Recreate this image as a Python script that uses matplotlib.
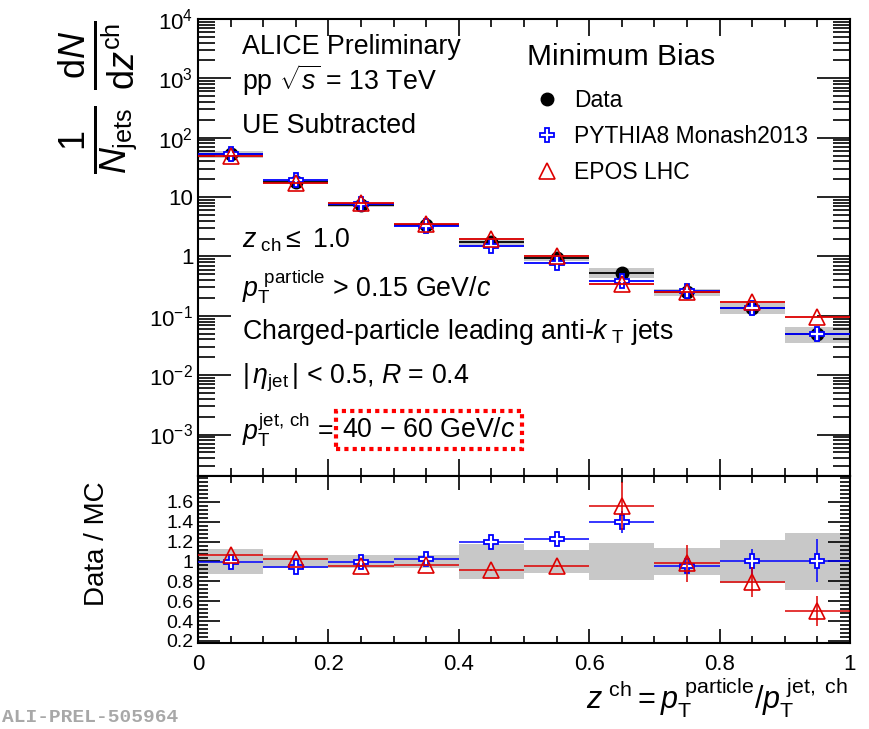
import math
import matplotlib
matplotlib.use('Agg')
import matplotlib.pyplot as plt
import matplotlib.ticker as ticker
from matplotlib.lines import Line2D
from matplotlib.patches import Rectangle

plt.rcParams['font.family'] = ['Liberation Sans', 'DejaVu Sans']
plt.rcParams['mathtext.fontset'] = 'custom'
plt.rcParams['mathtext.rm'] = 'Liberation Sans'
plt.rcParams['mathtext.it'] = 'Liberation Sans:italic'
plt.rcParams['mathtext.bf'] = 'Liberation Sans:bold'

# bins in z^ch
z_centers = [0.05, 0.15, 0.25, 0.35, 0.45, 0.55, 0.65, 0.75, 0.85, 0.95]
z_halfwidth = [0.05] * 10

# spectra 1/Njets dN/dz
data_vals = [53, 18, 7.4, 3.4, 1.76, 0.95, 0.53, 0.25, 0.136, 0.050]
data_sys_rel = [0.13, 0.065, 0.066, 0.07, 0.18, 0.12, 0.19, 0.14, 0.22, 0.29]
pythia_vals = [53.5, 19.1, 7.5, 3.3, 1.47, 0.77, 0.38, 0.26, 0.136, 0.050]
epos_vals = [49.5, 17.5, 7.8, 3.5, 1.93, 1.0, 0.34, 0.255, 0.172, 0.094]

# Data / MC ratios
ratio_pythia = [0.99, 0.94, 0.99, 1.03, 1.20, 1.23, 1.40, 0.95, 1.00, 1.01]
ratio_pythia_err = [0.01, 0.01, 0.01, 0.01, 0.01, 0.01, 0.11, 0.05, 0.13, 0.22]
ratio_epos = [1.07, 1.03, 0.95, 0.96, 0.91, 0.95, 1.56, 0.98, 0.79, 0.50]
ratio_epos_err = [0.01, 0.01, 0.01, 0.01, 0.01, 0.01, 0.24, 0.19, 0.15, 0.15]

gray = '#c8c8c8'
blue = '#0000ff'
red = '#dd0000'

fig = plt.figure(figsize=(8.69, 7.29), dpi=100)
ax = fig.add_axes([0.228, 0.347, 0.750, 0.627])
axr = fig.add_axes([0.228, 0.118, 0.750, 0.229], sharex=ax)

# --- top panel
for zc, hw, v, s in zip(z_centers, z_halfwidth, data_vals, data_sys_rel):
    ax.add_patch(Rectangle((zc - hw, v * (1 - s)), 2 * hw, 2 * v * s,
                           facecolor=gray, edgecolor='none', zorder=1))
ax.errorbar(z_centers, data_vals, xerr=z_halfwidth, fmt='o', color='black',
            ms=9, elinewidth=1.3, capsize=0, zorder=3)
ax.errorbar(z_centers, pythia_vals, xerr=z_halfwidth, fmt='P', color=blue,
            mfc='white', mec=blue, ms=10, mew=1.3, elinewidth=1.3, capsize=0, zorder=4)
ax.errorbar(z_centers, epos_vals, xerr=z_halfwidth, fmt='^', color=red,
            mfc='none', mec=red, ms=11, mew=1.2, elinewidth=1.3, capsize=0, zorder=5)

ax.set_yscale('log')
ax.set_ylim(2e-4, 1e4)
ax.set_xlim(0, 1)
ax.yaxis.set_major_locator(ticker.LogLocator(base=10, numticks=20))
ax.yaxis.set_minor_locator(ticker.LogLocator(base=10, subs=range(2, 10), numticks=20))


def log_fmt(v, pos):
    e = int(round(math.log10(v)))
    if e == 0:
        return '1'
    if e == 1:
        return '10'
    return r'$10^{%d}$' % e


ax.yaxis.set_major_formatter(ticker.FuncFormatter(log_fmt))
plt.setp(ax.get_xticklabels(), visible=False)

for a in (ax, axr):
    a.tick_params(which='both', direction='in', top=True, right=True, labelsize=16, width=1.2)
    a.xaxis.set_major_locator(ticker.MultipleLocator(0.2))
    a.xaxis.set_minor_locator(ticker.MultipleLocator(0.05))
    for sp in a.spines.values():
        sp.set_linewidth(1.5)
ax.tick_params(axis='y', which='major', length=24)
ax.tick_params(axis='y', which='minor', length=12)
ax.tick_params(axis='x', which='major', length=12)
ax.tick_params(axis='x', which='minor', length=6)

# --- ratio panel
for zc, hw, s in zip(z_centers, z_halfwidth, data_sys_rel):
    axr.add_patch(Rectangle((zc - hw, 1 - s), 2 * hw, 2 * s,
                            facecolor=gray, edgecolor='none', zorder=1))
axr.errorbar(z_centers, ratio_pythia, xerr=z_halfwidth, yerr=ratio_pythia_err, fmt='P',
             color=blue, mfc='white', mec=blue, ms=10, mew=1.3, elinewidth=1.1, capsize=0, zorder=4)
axr.errorbar(z_centers, ratio_epos, xerr=z_halfwidth, yerr=ratio_epos_err, fmt='^',
             color=red, mfc='none', mec=red, ms=11, mew=1.2, elinewidth=1.1, capsize=0, zorder=5)
axr.set_ylim(0.18, 1.86)
axr.set_xlim(0, 1)
axr.yaxis.set_major_locator(ticker.FixedLocator([0.2, 0.4, 0.6, 0.8, 1.0, 1.2, 1.4, 1.6]))
axr.yaxis.set_minor_locator(ticker.MultipleLocator(0.04))
axr.yaxis.set_major_formatter(ticker.FuncFormatter(lambda v, p: '%g' % round(v, 2)))
axr.xaxis.set_major_formatter(ticker.FuncFormatter(lambda v, p: '%g' % round(v, 2)))
axr.tick_params(axis='y', which='major', length=16, labelsize=14)
axr.tick_params(axis='y', which='minor', length=7)
axr.tick_params(axis='x', which='major', length=10)
axr.tick_params(axis='x', which='minor', length=5)
axr.tick_params(axis='x', pad=8)

# --- labels
fig.text(0.113, 0.866, r'$\frac{1}{N_{\rm jets}}\;\frac{{\rm d}N}{{\rm d}z^{\rm ch}}$',
         rotation=90, ha='center', va='center', fontsize=37)
fig.text(0.112, 0.254, 'Data / MC', rotation=90, ha='center', va='center', fontsize=20)
fig.text(0.976, 0.042, r'$z^{\rm\ ch} = p_{\rm T}^{\rm\ particle}/p_{\rm T}^{\rm\ jet,\ ch}$',
         ha='right', va='center', fontsize=22)
fig.text(0.002, 0.004, 'ALI-PREL-505964', fontsize=14, color='#a8a8a8',
         family='Liberation Mono', weight='bold', ha='left', va='bottom')

tx = 0.279
fs = 19.3
fig.text(tx, 1 - 47 / 729, 'ALICE Preliminary', fontsize=fs, va='center')
fig.text(tx, 1 - 80 / 729, r'pp $\sqrt{s}$ = 13 TeV', fontsize=fs, va='center')
fig.text(tx, 1 - 126 / 729, 'UE Subtracted', fontsize=fs, va='center')
fig.text(tx, 1 - 240 / 729, r'$z_{\rm\ ch} \leq$ 1.0', fontsize=fs, va='center')
fig.text(tx, 1 - 287 / 729, r'$p_{\rm T}^{\rm\ particle}$ > 0.15 GeV/$c$', fontsize=fs, va='center')
fig.text(tx, 1 - 332 / 729, r'Charged-particle leading anti-$k_{\rm\ T}$ jets', fontsize=fs, va='center')
fig.text(tx, 1 - 378 / 729, r'$|\,\eta_{\rm jet}\,|$ < 0.5, $R$ = 0.4', fontsize=fs, va='center')
fig.text(tx, 1 - 430 / 729, r'$p_{\rm T}^{\rm jet,\,ch}$ =', fontsize=fs, va='center')
fig.text(0.394, 1 - 430 / 729, r'40 $-$ 60 GeV/$c$', fontsize=fs, va='center',
         bbox=dict(boxstyle='square,pad=0.22', facecolor='none', edgecolor='#ff0000',
                   linestyle=(0, (1, 1)), linewidth=3))

fig.text(0.607, 1 - 57 / 729, 'Minimum Bias', fontsize=21.5, va='center')
handles = [Line2D([], [], marker='o', color='black', ls='none', ms=9),
           Line2D([], [], marker='P', mfc='white', mec=blue, ls='none', ms=10, mew=1.3),
           Line2D([], [], marker='^', mfc='none', mec=red, ls='none', ms=11, mew=1.2)]
ax.legend(handles, ['Data', 'PYTHIA8 Monash2013', 'EPOS LHC'], loc='upper left',
          bbox_to_anchor=(0.5, 0.866), frameon=False, fontsize=16.5, handlelength=1.2,
          handletextpad=0.6, labelspacing=0.55, borderaxespad=0)

fig.savefig('out.png', dpi=100)
